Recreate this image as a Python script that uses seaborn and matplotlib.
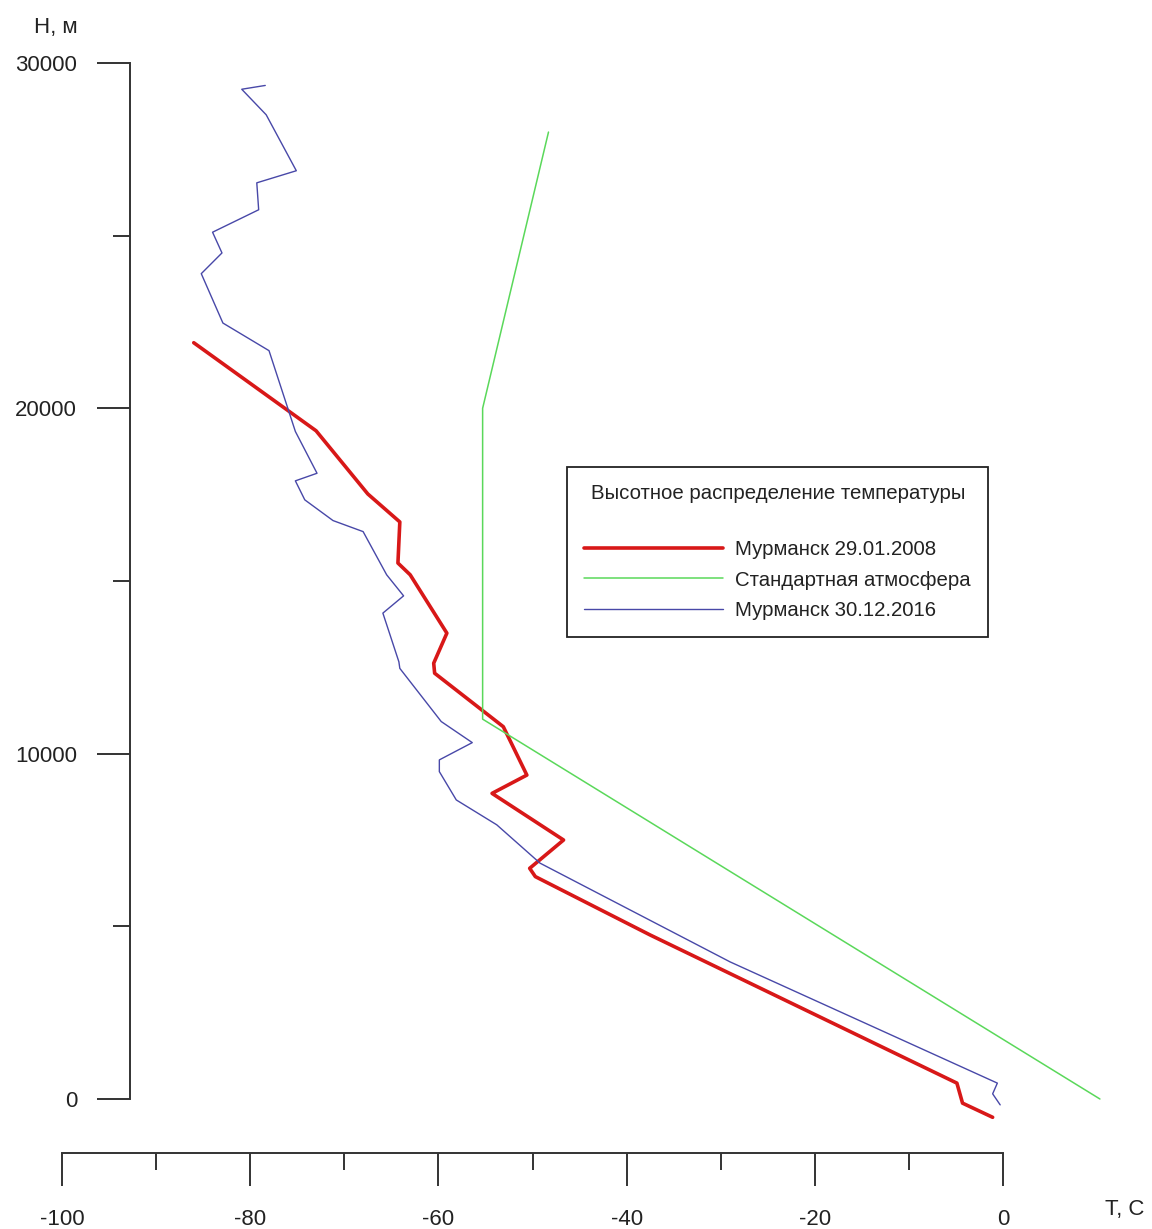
import matplotlib
matplotlib.use("Agg")
import matplotlib.pyplot as plt
import seaborn as sns
import pandas as pd

# ---- data ----
red_T = [-86.0, -73.0, -67.5, -64.1, -64.3, -63.0, -59.1, -60.5, -60.4, -53.1,
         -50.6, -54.3, -46.7, -50.3, -49.7, -37.5, -4.9, -4.3, -1.1]
red_H = [21900, 19350, 17520, 16710, 15520, 15180, 13490, 12620, 12330, 10780,
         9380, 8850, 7500, 6680, 6440, 4750, 460, -120, -530]

green_T = [10.3, -55.3, -55.3, -48.3]
green_H = [0, 11000, 20000, 28000]

blue_T = [-78.4, -80.9, -78.3, -75.1, -79.3, -79.1, -84.0, -83.0, -85.2, -82.9,
          -78.0, -75.2, -72.9, -75.2, -74.2, -71.2, -68.0, -65.5, -63.7, -65.9,
          -64.2, -64.1, -59.7, -56.4, -59.9, -59.9, -58.1, -53.8, -49.2, -29.0,
          -0.6, -1.1, -0.3]
blue_H = [29350, 29240, 28500, 26880, 26530, 25750, 25100, 24500, 23900, 22470,
          21670, 19330, 18120, 17900, 17350, 16750, 16430, 15180, 14570, 14070,
          12660, 12470, 10930, 10320, 9820, 9480, 8660, 7940, 6830, 3970,
          460, 150, -170]

labels = ["Мурманск 29.01.2008", "Стандартная атмосфера", "Мурманск 30.12.2016"]
legend_title = "Высотное распределение температуры"
x_major = [-100, -80, -60, -40, -20, 0]
x_minor = [-90, -70, -50, -30, -10]
y_major = [0, 10000, 20000, 30000]
y_minor = [5000, 15000, 25000]

sns.set_style("white")
plt.rcParams["font.family"] = ["Liberation Sans", "DejaVu Sans"]
plt.rcParams["axes.unicode_minus"] = False

W, H = 1152, 1229
fig = plt.figure(figsize=(W / 100, H / 100), dpi=100)

# axes placement (pixel based)
x_lo, x_hi = -100, 13
px_per_deg = (1003 - 62) / 100.0
y_lo, y_hi = -1000, 30000
px_per_m = (1099 - 63) / 30000.0
left_px = 62
right_px = left_px + (x_hi - x_lo) * px_per_deg
top_px = 63
bottom_px = 1099 + (0 - y_lo) * px_per_m
ax = fig.add_axes([left_px / W, 1 - bottom_px / H,
                   (right_px - left_px) / W, (bottom_px - top_px) / H])

df_red = pd.DataFrame({"T": red_T, "H": red_H})
df_green = pd.DataFrame({"T": green_T, "H": green_H})
df_blue = pd.DataFrame({"T": blue_T, "H": blue_H})

sns.lineplot(data=df_red, x="T", y="H", sort=False, estimator=None,
             color="#d81818", linewidth=2.6, label=labels[0], ax=ax)
sns.lineplot(data=df_green, x="T", y="H", sort=False, estimator=None,
             color="#5ad85a", linewidth=1.1, label=labels[1], ax=ax)
sns.lineplot(data=df_blue, x="T", y="H", sort=False, estimator=None,
             color="#4848a8", linewidth=1.0, label=labels[2], ax=ax)

ax.set_xlim(x_lo, x_hi)
ax.set_ylim(y_lo, y_hi)
ax.set_xlabel("")
ax.set_ylabel("")

axis_color = "#333333"
for s in ["top", "right"]:
    ax.spines[s].set_visible(False)
y_spine_x = -100 + (130 - 62) / px_per_deg
ax.spines["left"].set_position(("data", y_spine_x))
ax.spines["left"].set_bounds(0, 30000)
ax.spines["bottom"].set_position(("outward", (1153 - bottom_px) / 1.389))
ax.spines["bottom"].set_bounds(-100, 0)
for s in ["left", "bottom"]:
    ax.spines[s].set_color(axis_color)
    ax.spines[s].set_linewidth(1.4)

ax.set_xticks(x_major)
ax.set_xticklabels([str(v) for v in x_major])
ax.set_xticks(x_minor, minor=True)
ax.set_yticks(y_major)
ax.set_yticklabels([str(v) for v in y_major])
ax.set_yticks(y_minor, minor=True)

ax.tick_params(axis="both", which="major", direction="out", length=24,
               width=1.4, color=axis_color, labelsize=16, labelcolor="#222222")
ax.tick_params(axis="both", which="minor", direction="out", length=12,
               width=1.4, color=axis_color)
ax.tick_params(axis="x", which="major", pad=16)
ax.tick_params(axis="y", which="major", pad=14)
ax.tick_params(axis="both", which="both", bottom=True, left=True)

fig.text(56 / W, 1 - 28 / H, "H, м", ha="center", va="center",
         fontsize=16, color="#222222")
fig.text(1125 / W, 1 - 1210 / H, "T, C", ha="center", va="center",
         fontsize=16, color="#222222")

leg = ax.legend(title=legend_title + "\n", loc="upper left",
                bbox_to_anchor=(567 / W, 1 - 467 / H),
                bbox_transform=fig.transFigure, borderaxespad=0,
                fontsize=14.7, title_fontsize=14.7, frameon=True, fancybox=False,
                shadow=False, handlelength=6.8, handletextpad=0.6,
                labelspacing=0.55, borderpad=0.85, framealpha=1)
leg.get_title().set_linespacing(1.45)
leg.get_frame().set_edgecolor("#222222")
leg.get_frame().set_linewidth(1.3)
for t in leg.get_texts():
    t.set_color("#222222")
leg.get_title().set_color("#222222")

fig.savefig("out.png", dpi=100)
